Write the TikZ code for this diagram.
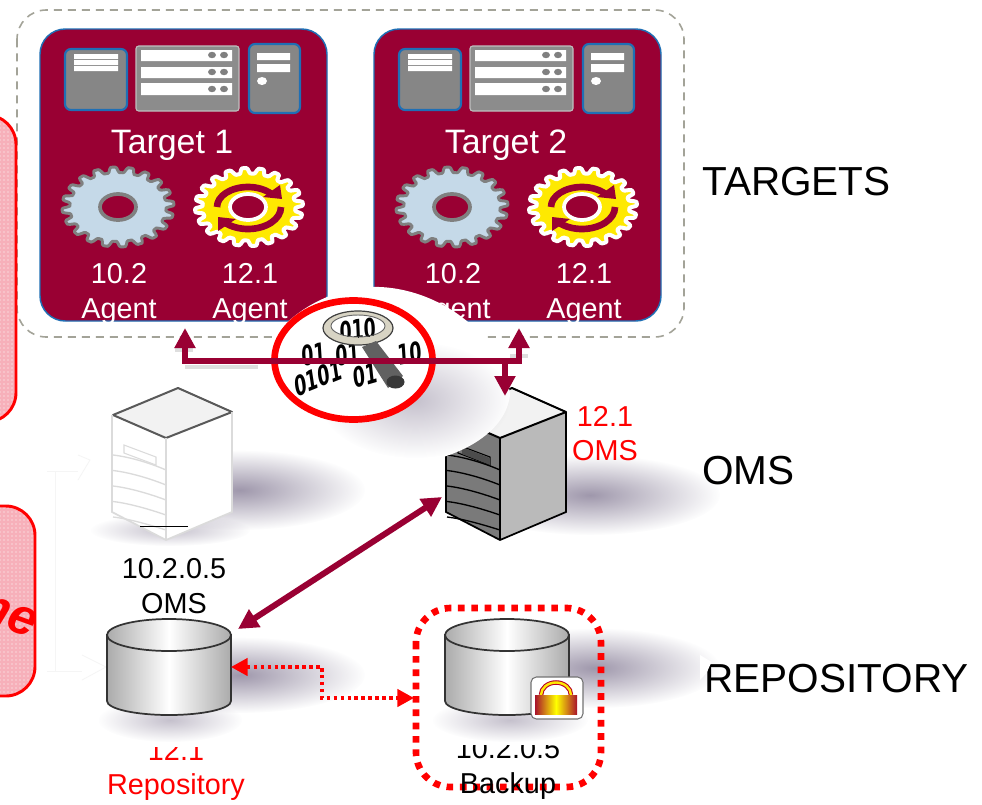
\documentclass[tikz,border=0pt]{standalone}
\usepackage{fontspec}
\setmainfont{Liberation Sans}
\newfontfamily\binfont{DejaVu Sans}
\usetikzlibrary{arrows.meta,fadings,patterns,calc}
\definecolor{maroon}{HTML}{990033}
\definecolor{bluee}{HTML}{1F6FB5}
\definecolor{shadowc}{HTML}{7F7590}
\definecolor{panelpink}{HTML}{F7B0BA}
\definecolor{gearblue}{HTML}{C5D9E8}
\definecolor{framegray}{HTML}{A3A398}
\definecolor{ringtan}{HTML}{D8D4C4}
\tikzfading[name=softf,inner color=transparent!25,outer color=transparent!100]
\tikzfading[name=softl,inner color=transparent!55,outer color=transparent!100]
\tikzset{
  declare function={gf(\t)=0.93+0.07*max(-1,min(1,2*cos(20*\t)));},
  softshadow/.style={fill=shadowc,path fading=softf},
  lightshadow/.style={fill=shadowc,path fading=softl},
  lab/.style={anchor=base,inner sep=0pt,font=\fontsize{21.6pt}{24pt}\selectfont},
  big/.style={anchor=base west,inner sep=0pt,font=\fontsize{30.4pt}{34pt}\selectfont},
  ttl/.style={anchor=base,inner sep=0pt,font=\fontsize{25.4pt}{28pt}\selectfont,text=white},
  bin/.style={anchor=center,inner sep=0pt,font=\binfont\bfseries\fontsize{21pt}{24pt}\selectfont,text=black,xscale=.62,transform shape},
  thick arrow/.style={draw=maroon,line width=4.5pt,{Triangle[length=15pt,width=15pt]}-{Triangle[length=15pt,width=15pt]}},
  drop arrow/.style={draw=maroon,line width=4.5pt,-{Triangle[length=15pt,width=15pt]}},
  red arrow/.style={draw=red,line width=2.6pt,dash pattern=on 2.6pt off 2.6pt,{Triangle[length=12.5pt,width=13pt]}-{Triangle[length=12.5pt,width=13pt]}},
  panelp/.style={pattern=dots,pattern color=white},
  icon/.style={fill=gray!95,draw=bluee,line width=1.6pt,rounded corners=4.5pt},
  ghost/.style={draw=black!4,line width=.6pt},
  dbase/.style={draw=black!80,line width=1.3pt,left color=black!33,right color=black!33,middle color=white},
  arrowshade/.style={draw=black!13,line width=3pt},
}
\newcommand{\serverdraw}[5]{% offset, left fill, right fill, detail, edge
  \begin{scope}[shift={(#1,0)}]
    \fill[#2] (112,415) -- (166,438) -- (166,540) -- (112,512) -- cycle;
    \fill[#3] (166,438) -- (232,412) -- (232,512) -- (166,540) -- cycle;
    \fill[black!5] (178,388) -- (232,412) -- (166,438) -- (113,415) -- cycle;
    \draw[#5,line width=1.5pt,line join=round] (178,388) -- (232,412) -- (166,438) -- (113,415) -- cycle;
    \draw[#4,line width=1.3pt] (166,438) -- (166,540) (232,412) -- (232,512) -- (166,540) -- (112,512) -- (112,415);
    \foreach \k in {0,1,2,3,4}
      \draw[#4,line width=1pt] (113,{455+\k*15.5}) .. controls (130,{457+\k*15.5}) and (150,{463+\k*15.5}) .. (166,{470+\k*15});
    \draw[#4,line width=.8pt,fill=#2] (124,445) -- (156,457) -- (156,465) -- (124,453) -- cycle;
  \end{scope}}
\newcommand{\dbdraw}[1]{% center x
  \draw[dbase] (#1-62,635) -- (#1-62,701) arc[start angle=180,end angle=0,x radius=62,y radius=14] -- (#1+62,635) -- cycle;
  \draw[dbase] (#1,635) ellipse[x radius=62,y radius=16];}
\begin{document}
\begin{tikzpicture}[x=0.75pt,y=-0.75pt]
\useasboundingbox (0,0) rectangle (982,804);
\fill[white] (0,0) rectangle (982,804);

% soft shadows
\fill[softshadow] (240,490) ellipse[x radius=125,y radius=40];
\fill[softshadow] (590,495) ellipse[x radius=130,y radius=40];
\fill[softshadow] (240,675) ellipse[x radius=125,y radius=38];
\fill[softshadow] (595,668) ellipse[x radius=125,y radius=40];
\fill[lightshadow] (170,720) ellipse[x radius=72,y radius=22];
\fill[lightshadow] (510,720) ellipse[x radius=78,y radius=22];
\fill[lightshadow] (170,530) ellipse[x radius=80,y radius=16];

% outer dashed frame
\draw[draw=framegray,line width=1.2pt,dash pattern=on 6pt off 4.5pt,rounded corners=22pt] (17,10) rectangle (684,337);

% left panels
\fill[panelpink,rounded corners=22pt] (-40,115) rectangle (16,422);
\path[panelp,rounded corners=22pt] (-40,115) rectangle (16,422);
\draw[red,line width=2.2pt,rounded corners=22pt] (-40,115) rectangle (16,422);
\fill[panelpink,rounded corners=22pt] (-40,506) rectangle (35,696);
\path[panelp,rounded corners=22pt] (-40,506) rectangle (35,696);
\draw[red,line width=2.2pt,rounded corners=22pt] (-40,506) rectangle (35,696);
\node[inner sep=0pt,rotate=-20,text=red,font=\fontsize{38pt}{40pt}\selectfont\bfseries\itshape] (panelword) at (1,613) {me};

% faint ghost connector
\draw[ghost] (47,471) -- (78,471) (55,472) -- (55,671) (47,671) -- (82,671);
\draw[ghost] (78,455) -- (90,460) -- (78,480) (82,655) -- (106,667) -- (82,680);

% targets
\foreach \ox/\n in {0/1,334/2}{
\begin{scope}[shift={(\ox,0)}]
  \draw[fill=maroon,draw=bluee,line width=1.1pt,rounded corners=19pt] (40,29) rectangle (327,321);
  % icons
  \draw[icon] (65,49) rectangle (127,110);
  \fill[white] (74,54) rectangle (118,59) (74,60) rectangle (118,65) (74,66) rectangle (118,71);
  \draw[fill=gray!90,draw=black!25,line width=.8pt,rounded corners=2pt] (136,46) rectangle (239,111);
  \fill[white] (141,50) rectangle (232,61) (141,67) rectangle (232,78) (141,83) rectangle (232,95);
  \foreach \yy in {55,72,89}{\fill[gray] (212,\yy) ellipse[x radius=4,y radius=3.2] (224,\yy) ellipse[x radius=4,y radius=3.2];}
  \draw[icon] (249,44) rectangle (300,113);
  \fill[white] (257,53) rectangle (290,60) (257,64) rectangle (290,72) (262,81) ellipse[x radius=5,y radius=4];
  \node[ttl] (title\n) at (172,153) {Target \n};
  % gear 1
  \draw[fill=gearblue,draw=gray,line width=2.2pt,line join=round]
     plot[domain=0:360,samples=241,variable=\t] ({118+56*gf(\t+5)*cos(\t)},{207+40*gf(\t+5)*sin(\t)}) -- cycle;
  \draw[fill=maroon,draw=gray,line width=2.8pt] (118,207) ellipse[x radius=18,y radius=13];
  % gear 2
  \draw[fill=yellow!92!orange,draw=white,line width=3pt,line join=round]
     plot[domain=0:360,samples=241,variable=\t] ({249+54*gf(\t+5)*cos(\t)},{207+39*gf(\t+5)*sin(\t)}) -- cycle;
  \draw[line width=5pt,draw=maroon] (248,207) +(180:31 and 20) arc[start angle=180,end angle=318,x radius=31,y radius=20];
  \fill[maroon] (280,185) -- (282,199) -- (263,197) -- cycle;
  \draw[line width=5pt,draw=maroon] (248,207) +(0:33 and 22) arc[start angle=0,end angle=135,x radius=33,y radius=22];
  \fill[maroon] (218,217) -- (218,231) -- (236,219) -- cycle;
  \draw[fill=maroon,draw=white,line width=2.8pt] (248,207) ellipse[x radius=18,y radius=13];
  \begin{scope}
    \clip[rounded corners=19pt] (40,29) rectangle (327,321);
    \node[lab,text=white] (v102\n) at (119,283) {10.2};
    \node[lab,text=white] (a102\n) at (119,318) {Agent};
    \node[lab,text=white] (v121\n) at (250,283) {12.1};
    \node[lab,text=white] (a121\n) at (250,318) {Agent};
  \end{scope}
\end{scope}
}

% servers
\serverdraw{0}{white}{white}{black!14}{black!65}
\draw[black,line width=1.2pt] (140,526.5) -- (188,526.5);
\serverdraw{334}{black!52}{black!27}{black}{black}
\fill[black!70] (462,447) -- (490,458) -- (490,465) -- (462,454) -- cycle;

% white blob over the targets and server
\fill[white] (380,287) .. controls (445,290) and (505,340) .. (510,395)
  .. controls (505,440) and (440,468) .. (380,465)
  .. controls (310,468) and (255,420) .. (258,375)
  .. controls (262,330) and (320,285) .. (380,287) -- cycle;
\fill[lightshadow] (415,400) ellipse[x radius=95,y radius=58];
\draw[red,fill=white,line width=5pt] (353.5,360) ellipse[x radius=79,y radius=59.5];

% magnifier
\begin{scope}
  \clip (353.5,360) ellipse[x radius=76,y radius=57];
  \node[bin,rotate=14] (b1) at (318,378) {0101};
  \node[bin,rotate=10] (b2) at (365,375) {01};
  \node[bin,rotate=6] (b3) at (314,354) {01};
  \node[bin,rotate=6] (b4) at (410,353) {10};
  \node[bin,rotate=6] (b6) at (348,354) {01};
\end{scope}
\fill[ringtan,even odd rule] (358,328) ellipse[x radius=35,y radius=17] (358,326) ellipse[x radius=27,y radius=11];
\begin{scope}
  \fill[white] (358,326) ellipse[x radius=27,y radius=11];
  \clip (358,326) ellipse[x radius=27,y radius=11];
  \node[bin,rotate=4] (b5) at (358,330) {010};
\end{scope}
\draw[line width=.9pt,draw=black!75] (358,328) ellipse[x radius=35,y radius=17];
\draw[line width=.7pt,draw=black!60] (358,326) ellipse[x radius=27,y radius=11];
\fill[black!62] (362,347) -- (376,341) -- (403,376) -- (388,388) -- cycle;
\fill[black!78] (395.5,382) ellipse[x radius=9,y radius=6.5];

% connectors
\coordinate (t1port) at (185,328);
\coordinate (t2port) at (519,328);
\coordinate (busL) at (185,361);
\coordinate (busR) at (519,361);
\coordinate (busdrop) at (505,361);
\coordinate (omsport) at (505,396);
\coordinate (omsw) at (442,497);
\coordinate (repone) at (238,629);
\coordinate (repoe) at (231,667);
\coordinate (backupw) at (414,698);
\coordinate (rb1) at (322,667);
\coordinate (rb2) at (322,698);
\draw[arrowshade] (185,366.5) -- (258,366.5) (175,350) -- (193,350) (510,356) -- (528,356);
\draw[thick arrow,line join=miter] (t1port) -- (busL) -- (busR) -- (t2port);
\draw[drop arrow] (busdrop) -- (omsport);

% databases
\dbdraw{169}
\dbdraw{507}
\draw[thick arrow] (omsw) -- (repone);
\draw[red arrow] (repoe) -- (rb1) -- (rb2) -- (backupw);

% lock
\draw[fill=white,draw=black!55,line width=.8pt,rounded corners=4pt] (531,677) rectangle (583,719);
\draw[draw=maroon!70!red,line width=3.4pt] (541,695) arc[start angle=180,end angle=360,x radius=15,y radius=12.5];
\draw[draw=yellow!90!orange,line width=1.8pt] (541,695) arc[start angle=180,end angle=360,x radius=15,y radius=12.5];
\shade[left color=maroon!85!orange,right color=maroon!85!orange,middle color=yellow] (535,695) rectangle (577,714);

% backup frame
\draw[draw=red,line width=5pt,dash pattern=on 5pt off 5pt,rounded corners=26pt] (416,608) rectangle (601,787);

% labels
\node[big] (ltargets) at (702,195) {TARGETS};
\node[big] (loms) at (702,484) {OMS};
\node[big] (lrepo) at (704,692) {REPOSITORY};
\fill[white] (700,655) -- (711.5,662) -- (706.5,673) -- (700,680) -- cycle;
\node[lab,text=red] (oms121a) at (605,426) {12.1};
\node[lab,text=red] (oms121b) at (605,460) {OMS};
\node[lab] (oms102a) at (174,578) {10.2.0.5};
\node[lab] (oms102b) at (174,613) {OMS};
\begin{scope}
  \clip (100,747) rectangle (260,770);
  \node[lab,text=red] (rep121a) at (176,760) {12.1};
\end{scope}
\node[lab,text=red] (rep121b) at (176,794) {Repository};
\begin{scope}
  \clip (440,745) rectangle (580,770);
  \node[lab] (bak102a) at (508,758) {10.2.0.5};
\end{scope}
\node[lab] (bak102b) at (508,793) {Backup};
\end{tikzpicture}
\end{document}
